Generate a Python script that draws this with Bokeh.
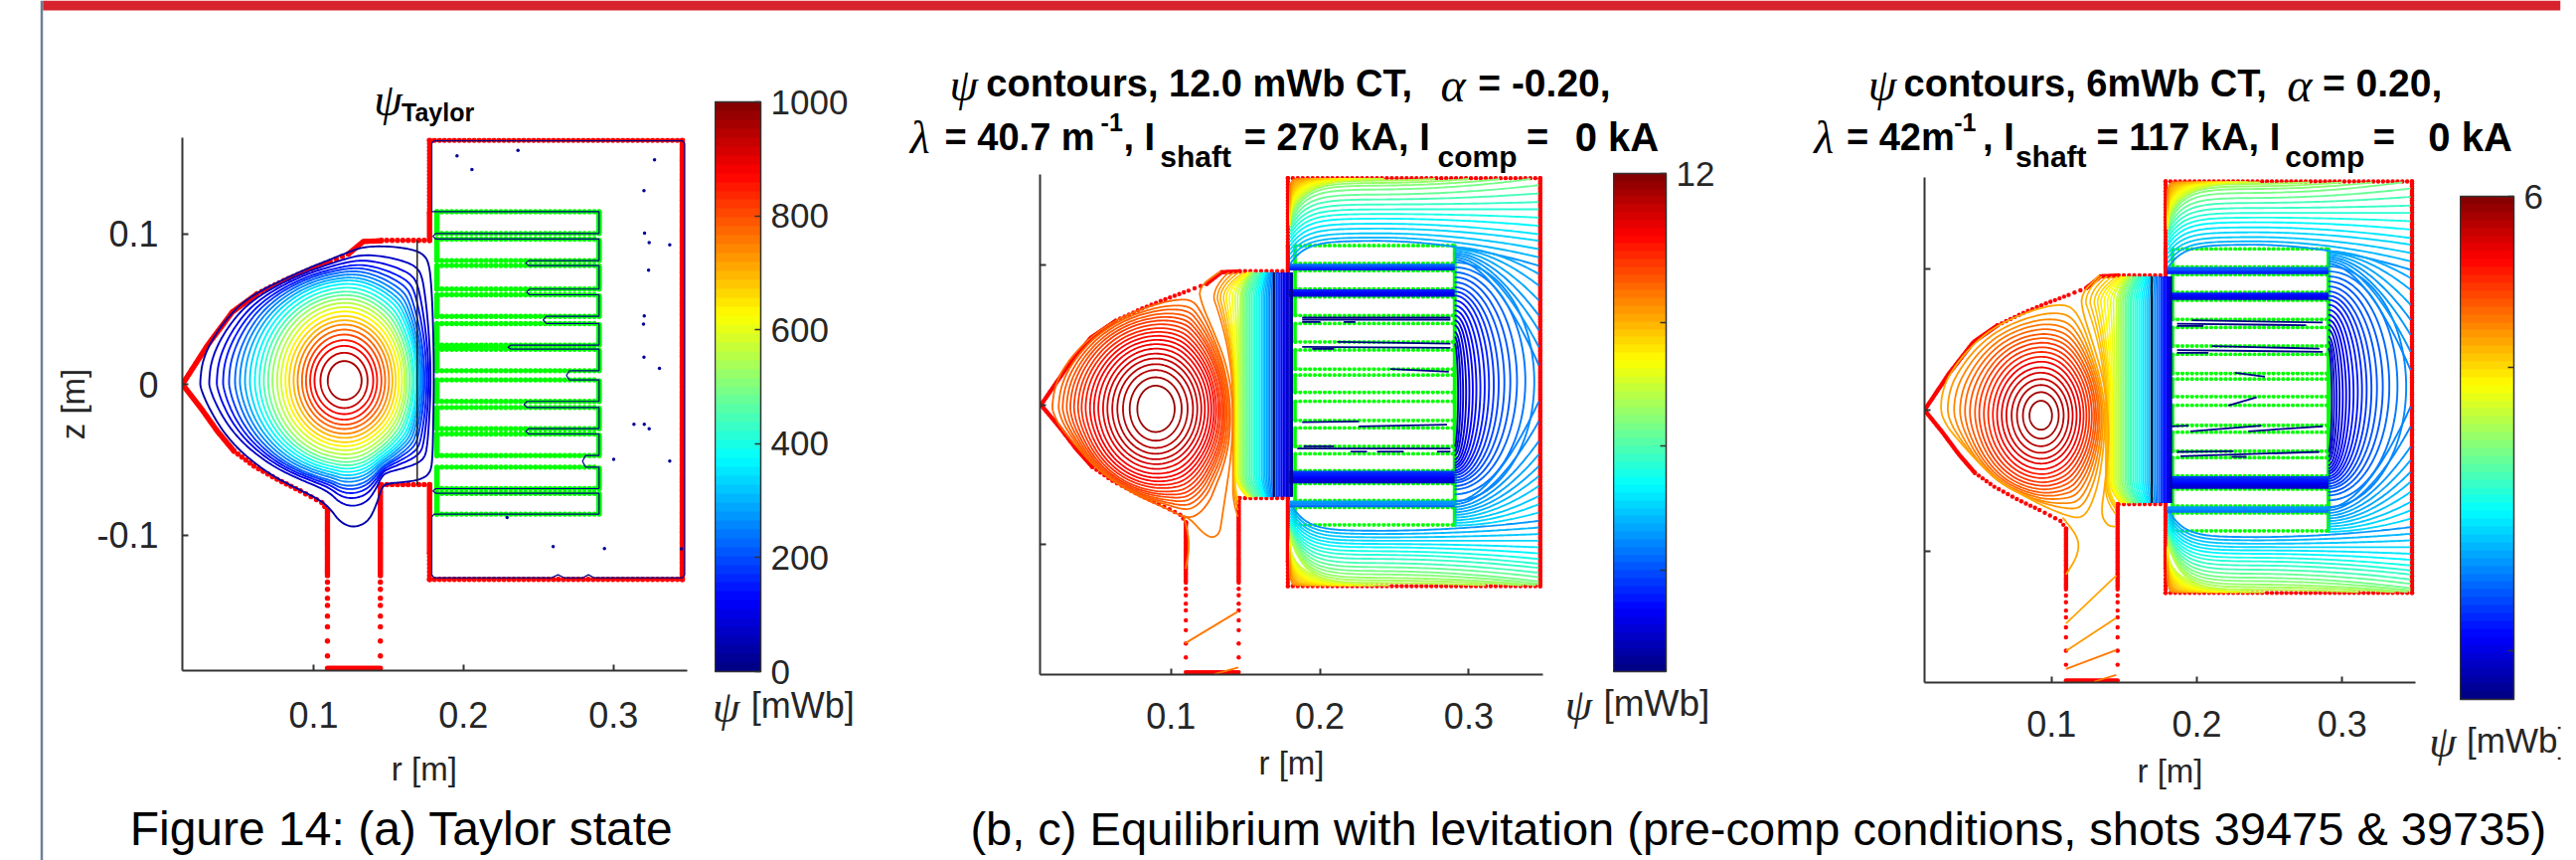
import numpy as np
from bokeh.embed import file_html
from bokeh.resources import INLINE
from bokeh.models import (ColorBar, ColumnDataSource, FixedTicker, Label, LinearColorMapper, Range1d, Row)
from bokeh.plotting import figure

# ---------- values (r, z in metres, psi in mWb) ----------
wall_upper_r = [.0127, .0296, .0462, .0629, .0807, .0962, .1118, .1240, .1340, .1462]
wall_upper_z = [0, .0260, .0480, .0601, .0689, .0755, .0816, .0865, .0948, .0953]
wall_lower_r = [.1102, .1062, .0918, .0762, .0607, .0473, .0362, .0251, .0127]
wall_lower_z = [-.084, -.0785, -.0708, -.0631, -.0543, -.0444, -.0312, -.0158, 0]
neck_left_r, neck_right_r = .1100, .1455
step_upper_z, step_lower_z = .0955, -.0666
tank_left_r, tank_right_r, tank_top_z, tank_bottom_z = .1785, .3480, .1620, -.1295
neck_sparse_z = [-.1314, -.1361, -.1420, -.1468, -.1539, -.1610, -.1705, -.1804]

# panel (a)
a_axis = (.1213, .0024)
a_left = [.1102, .1053, .1013, .0984, .0956, .0929, .0900, .0873, .0844, .0818, .0789, .0762, .0731, .0702, .0673, .0644, .0613, .0580, .0547, .0513, .0480, .0440, .0400, .0358, .0307, .0247]
a_right = [.1329, .1369, .1407, .1433, .1462, .1487, .1513, .1536, .1558, .1580, .1600, .1618, .1633, .1651, .1667, .1680, .1696, .1707, .1718, .1729, .1740, .1751, .1765, .1778, .1791, .1813]
a_top = [.0154, .0209, .0255, .0293, .0330, .0363, .0396, .0425, .0453, .0484, .0513, .0541, .0568, .0594, .0618, .0645, .0671, .0695, .0715, .0737, .0759, .0781, .0803, .0832, .0865, .0915]
a_bottom = [-.0103, -.0158, -.0198, -.0235, -.0268, -.0297, -.0328, -.0356, -.0385, -.0411, -.0438, -.0466, -.0492, -.0517, -.0539, -.0561, -.0583, -.0605, -.0627, -.0649, -.0675, -.0697, -.0724, -.0757, -.0807, -.0944]
a_levels = [960, 923, 886, 849, 812, 775, 738, 701, 664, 627, 590, 553, 516, 479, 442, 405, 368, 331, 294, 257, 220, 183, 146, 109, 72, 35]
a_outer_r = [.0247, .0262, .0318, .0407, .0518, .0651, .0807, .0962, .1118, .1229, .1340, .1496, .1651, .1740, .1784, .1802, .1813, .1818, .1813, .1807, .1789, .1729, .1629, .1496, .1462, .1429, .1373, .1273, .1184, .1118, .1051, .0918, .0762, .0629, .0496, .0385, .0296, .0251]
a_outer_z = [.0018, .0150, .0282, .0414, .0535, .0623, .0700, .0770, .0832, .0876, .0915, .0920, .0902, .0871, .0810, .0634, .0370, .0062, -.0290, -.0510, -.0587, -.0625, -.0642, -.0653, -.0686, -.0796, -.0906, -.0944, -.0906, -.0818, -.0763, -.0697, -.0620, -.0532, -.0422, -.0290, -.0136, -.0026]
a_coil_top = [.1146, .0964, .0788, .0594, .0403, .0233, .0029, -.0154, -.0330, -.0550, -.0724]
a_coil_bot = [.1001, .0821, .0632, .0451, .0260, .0090, -.0114, -.0295, -.0473, -.0693, -.0862]
a_notch_r = [.1807, .243, .2436, .2547, .2311, .2703, .2418, .243, .2811, .1807]
a_speck_r = [.1969, .2069, .2378, .3294, .3223, .3227, .3258, .3396, .3254, .3225, .3220, .3223, .3327, .3156, .3225, .3258, .3020, .3396, .2305, .2614, .2958, .3474]
a_speck_z = [.1516, .1426, .1553, .1490, .1285, .1003, .0940, .0926, .0757, .0453, .0400, .0180, .0106, -.0266, -.0266, -.0295, -.0499, -.0510, -.0884, -.1078, -.1091, -.1093]
a_x_ticks = [.1007, .2011, .3018]  # r scale of this panel as calibrated on its tick marks

# panel (b)
b_axis = (.0897, -.0028)
b_left = [.0774, .0723, .0678, .0640, .0606, .0573, .0544, .0512, .0483, .0456, .0427, .0400, .0376, .0349, .0324, .0300, .0273, .0246, .0204]
b_right = [.1025, .1072, .1112, .1148, .1177, .1204, .1228, .1251, .1271, .1289, .1304, .1320, .1333, .1347, .1358, .1367, .1378, .1389, .1398]
b_top = [.0137, .0197, .0249, .0291, .0332, .0367, .0403, .0436, .0467, .0497, .0526, .0554, .0583, .0611, .0637, .0663, .0691, .0717, .0751]
b_bottom = [-.0194, -.0256, -.0308, -.0350, -.0390, -.0426, -.0461, -.0497, -.0528, -.0556, -.0585, -.0611, -.0639, -.0663, -.0686, -.0710, -.0734, -.0757, -.0800]
b_levels = [11, 10.5, 10, 9.5, 9, 8.5, 8, 7.5, 7, 6.5, 6, 5.5, 5, 4.6, 4.2, 3.8, 3.4, 3, 2.6]
b_outer_r = [.0204, .0226, .0293, .0405, .0539, .0696, .0875, .1031, .1143, .1199, .1255, .1311, .1356, .1389, .1398, .1385, .1345, .1300, .1255, .1177, .1098, .0942, .0785, .0629, .0472, .0338, .0248, .0215]
b_outer_z = [-.0012, .0142, .0284, .0426, .0545, .0639, .0710, .0751, .0746, .0663, .0545, .0403, .0261, .0071, -.0095, -.0284, -.0450, -.0568, -.0686, -.0781, -.0800, -.0722, -.0651, -.0556, -.0426, -.0260, -.0142, -.0059]
b_coil_top = [.1137, .0959, .0770, .0580, .0391, .0213, .0024, -.0166, -.0350, -.0563, -.0734]
b_coil_bot = [.1011, .0829, .0639, .0450, .0256, .0090, -.0111, -.0296, -.0469, -.0682, -.0857]
b_neck_mid = [.1416, .1421, .1425, .1430, .1434, .1438, .1445, .1452, .1459, .1465, .1472, .1481, .1490, .1499, .1508, .1519, .1530, .1541, .1553, .1564, .1575, .1586, .1597, .1609, .1620, .1631, .1642, .1653, .1664, .1676, .1687, .1698, .1709, .1720, .1732, .1743, .1754, .1765, .1774, .1783, .1792, .1801, .1808, .1814]
b_neck_lev = [2.2, 1.2, .2, -.8, -1.9, -3, -3.7, -4.4, -5.1, -5.8, -6.5, -7.2, -8, -8.5, -9, -9.5, -10, -10.6, -11.2, -11.8, -12.4, -13, -13.7, -14.4, -15.1, -15.8, -16.5, -17.2, -17.9, -18.6, -19.3, -20, -20.7, -21.4, -22.1, -22.8, -23.5, -24, -24.5, -25, -25.5, -26, -26.5, -27]
b_neck_bow = [.0128, .0110, .0094, .0078, .0063, .0047, .0034, .0022, .0011]
b_neck_end_z = [-.0800, -.0752, -.0710, -.0680]
b_tail_r = [[.1334, .1183, .1210, .1288, .1367, .1412, .1416, .1400, .1367, .1340, .1327, .1277, .1210, .1143, .1087],
            [.1087, .1116, .1121, .1098], [.1094, .1452], [.1289, .1452]]
b_tail_z = [[.0955, .0840, .0710, .0521, .0308, .0071, -.0166, -.0402, -.0639, -.0829, -.0918, -.0954, -.0911, -.0829, -.0793],
            [-.0805, -.0923, -.1041, -.1172], [-.1704, -.1475], [-.1925, -.1877]]
b_tail_lev = [2.4, 2.4, 2.4, 2.4]
b_seg_r0 = [.1881, .1881, .1881, .2161, .2116, .1881, .1948, .2474, .1881, .2261, .1892, .1848, .2206, .2384, .2787]
b_seg_r1 = [.2877, .2877, .2004, .2239, .2877, .2877, .2094, .2866, .2261, .2854, .2094, .2877, .2317, .2563, .2877]
b_seg_z0 = [.0623, .0609, .0592, .0592, .0450, .0414, .0400, .0256, -.0123, -.0154, -.0296, -.0312, -.0334, -.0334, -.0334]
b_seg_z1 = [.0623, .0609, .0592, .0592, .0438, .0407, .0400, .0237, -.0118, -.0142, -.0296, -.0312, -.0334, -.0334, -.0334]

# panel (c)
c_axis = (.0929, -.0038)
c_left = [.0849, .0804, .0763, .0726, .0690, .0658, .0626, .0597, .0565, .0535, .0503, .0474, .0439, .0405, .0371, .0330, .0287, .0241]
c_right = [.1004, .1050, .1084, .1118, .1146, .1173, .1198, .1221, .1241, .1260, .1278, .1294, .1307, .1321, .1332, .1344, .1355, .1367]
c_top = [.0066, .0127, .0178, .0220, .0265, .0303, .0343, .0378, .0413, .0446, .0479, .0512, .0542, .0577, .0612, .0648, .0690, .0742]
c_bottom = [-.0139, -.0202, -.0256, -.0303, -.0345, -.0380, -.0420, -.0456, -.0486, -.0517, -.0545, -.0573, -.0601, -.0627, -.0655, -.0686, -.0714, -.0756]
c_levels = [5.6, 5.3, 5, 4.7, 4.4, 4.1, 3.8, 3.5, 3.2, 2.9, 2.7, 2.4, 2.2, 2.0, 1.7, 1.5, 1.2, .9]
c_outer_r = [.0241, .0268, .0348, .0462, .0599, .0758, .0918, .1055, .1146, .1214, .1271, .1328, .1362, .1367, .1351, .1317, .1260, .1203, .1123, .0963, .0804, .0644, .0485, .0348, .0280]
c_outer_z = [.0002, .0178, .0319, .0460, .0577, .0659, .0718, .0742, .0718, .0601, .0436, .0249, .0061, -.0103, -.0315, -.0526, -.0690, -.0756, -.0749, -.0690, -.0608, -.0514, -.0362, -.0197, -.0103]
c_coil_top = [.1141, .0960, .0777, .0584, .0394, .0220, .0033, -.0158, -.0338, -.0561, -.0730]
c_coil_bot = [.1016, .0835, .0643, .0455, .0260, .0096, -.0108, -.0291, -.0467, -.0679, -.0855]
c_neck_mid = [.1373, .1380, .1387, .1394, .1401, .1410, .1419, .1428, .1437, .1449, .1460, .1471, .1483, .1494, .1506, .1517, .1528, .1540, .1551, .1565, .1579, .1592, .1606, .1620, .1633, .1647, .1661, .1674, .1688, .1702, .1715, .1729, .1743, .1756, .1765, .1775, .1784, .1793, .1802, .1811, .1818, .1825]
c_neck_lev = [.7, .5, .3, .1, -.1, -.4, -.7, -1, -1.3, -1.6, -1.9, -2.2, -2.5, -2.75, -3, -3.2, -3.5, -3.7, -4, -4.25, -4.5, -4.75, -5, -5.25, -5.5, -5.75, -6, -6.3, -6.6, -6.9, -7.2, -7.6, -8, -8.4, -8.7, -9, -9.3, -9.6, -9.9, -10.2, -10.5, -10.9]
c_neck_bow = [.0137, .0114, .0093, .0077, .0062, .0048, .0034, .0021, .0011, .0002]
c_neck_end_z = [-.0737, -.0700, -.0680, -.0665]
c_tail_r = [[.1330, .1203, .1214, .1282, .1351, .1385, .1396, .1369, .1339, .1385, .1442],
            [.1077, .1168, .1191, .1168, .1100], [.1100, .1446], [.1100, .1446], [.1100, .1446], [.1294, .1446]]
c_tail_z = [[.0955, .0824, .0695, .0483, .0249, .0014, -.0221, -.0526, -.0737, -.0819, -.0826],
            [-.0761, -.0878, -.0960, -.1054, -.1165], [-.1512, -.1172], [-.1707, -.1472], [-.1834, -.1700], [-.1923, -.1876]]
c_tail_lev = [1.0, 1.0, 1.0, 1.2, 1.8, 1.8]
c_seg_r0 = [.1966, .1864, .1864, .2103, .1864, .1864, .2262, .2217, .1955, .2354, .1818, .1864, .1887, .2240]
c_seg_r1 = [.2866, .2752, .2046, .2843, .2866, .2080, .2468, .2411, .2445, .2866, .1943, .2251, .2843, .2342]
c_seg_z0 = [.0636, .0612, .0596, .0453, .0425, .0406, .0265, .0033, -.0150, -.0150, -.0115, -.0296, -.0327, -.0331]
c_seg_z1 = [.0620, .0601, .0596, .0436, .0413, .0406, .0237, .0091, -.0110, -.0115, -.0110, -.0291, -.0296, -.0331]

# top-of-neck spread shared by the two levitation panels
neck_top_shift = [-.0027, .0002, .0031, .0060, .0078, .0085, .0089, .0089, .0085, .0081, .0076, .0072, .0067, .0067, .0067, .0067, .0067, .0063, .0058, .0054, .0049, .0045, .0040, .0036, .0031, .0027, .0022, .0018, .0013, .0009, .0004]

# tank contours of panel (b), colours also read for (c)
top_mid_z = [.1172, .1196, .1226, .1260, .1295, .1331, .1364, .1397, .1432, .1468, .1503, .1539, .1567, .1586, .1603, .1615]
top_wall_z = [.0994, .1054, .1113, .1172, .1219, .1279, .1338, .1397, .1449, .1511, .1570, .1622, .1645, .1669, .1681, .1693]
top_left_z = [.1006, .1042, .1077, .1108, .1136, .1165, .1191, .1217, .1241, .1264, .1286, .1307, .1326, .1342, .1359, .1373]
top_lev = [-17, -16.2, -15.5, -14.8, -14, -13.2, -12.4, -11.6, -10.8, -10, -9.2, -8.5, -7.8, -7, -6.3, -5.6]
bot_mid_z = [-.0900, -.0923, -.0947, -.0971, -.0994, -.1018, -.1046, -.1072, -.1101, -.1131, -.1160, -.1188, -.1212, -.1236, -.1255, -.1273]
bot_wall_z = [-.0829, -.0876, -.0923, -.0971, -.1018, -.1061, -.1101, -.1136, -.1165, -.1200, -.1231, -.1262, -.1278, -.1290, -.1297, -.1307]
bot_left_z = [-.0698, -.0722, -.0746, -.0769, -.0793, -.0817, -.0833, -.0850, -.0864, -.0876, -.0888, -.0900, -.0911, -.0923, -.0935, -.0947]
corner_top_z = [.1279, .1297, .1314, .1331, .1350, .1368, .1387, .1411, .1435, .1463, .1496, .1534]
corner_top_r = [.2429, .2351, .2284, .2217, .2161, .2109, .2060, .2015, .1971, .1926, .1888, .1852]
corner_bot_z = [-.0959, -.0971, -.0982, -.0994, -.1006, -.1018, -.1035, -.1053, -.1077, -.1101, -.1136, -.1172]
corner_bot_r = [.2463, .2362, .2284, .2217, .2150, .2094, .2038, .1982, .1937, .1904, .1870, .1843]
corner_lev = [-5, -4.4, -3.8, -3.2, -2.6, -2, -1.4, -.8, -.2, .4, 1, 1.6]
arc_mid_r = [.2928, .2944, .2962, .2982, .3004, .3027, .3051, .3078, .3107, .3136, .3168, .3201, .3239, .3279, .3324, .3380, .3440]
arc_top_z = [.0438, .0485, .0521, .0568, .0604, .0639, .0675, .0710, .0746, .0781, .0810, .0841, .0876, .0912, .0947, .0983, .1018]
arc_bot_z = [-.0296, -.0331, -.0360, -.0391, -.0414, -.0433, -.0450, -.0469, -.0485, -.0502, -.0521, -.0540, -.0556, -.0580, -.0604, -.0639, -.0686]
arc_lev = [-26, -25.5, -25, -24.5, -24, -23.5, -23, -22.5, -22, -21.5, -21, -20.5, -20, -19.5, -19, -18.5, -18]
cut_up_start = [.1037, .1054, .1070, .1084, .1099, .1113, .1125]
cut_up_end = [.0284, .0414, .0533, .0639, .0746, .0852, .0935]
cut_up_lev = [-17.8, -17.5, -17.2, -17, -16.8, -16.6, -16.4]
cut_lo_start = [-.0693, -.0710, -.0729, -.0748, -.0767, -.0786, -.0805, -.0824, -.0843, -.0862]
cut_lo_end = [.0024, -.0118, -.0260, -.0355, -.0438, -.0509, -.0580, -.0651, -.0710, -.0769]
cut_lo_lev = [-18, -17.6, -17.2, -16.8, -16.4, -16, -15.6, -15.2, -14.8, -14.4]
gap_bundles = {0: [-22, -21.5, -21, -20, -19], 1: [-24.5, -24, -23.5, -23, -22.5],
               8: [-25.5, -25, -24.5, -24, -23.5, -23, -22.5, -22, -21.5, -21], 9: [-19, -18.5, -18, -17.5, -17]}

a_ticks_cb, b_ticks_cb, c_ticks_cb = [0, 200, 400, 600, 800, 1000], [12, 0, -10, -20], [6, 0, -10]
a_low, a_high, b_low, b_high, c_low, c_high = 0, 1000, -28.2, 12, -11.7, 6


# ---------- helpers ----------
def jet(n=64):
    x = (np.arange(n) + .5) / n
    ch = lambda c: np.clip(1.5 - np.abs(4 * x - c), 0, 1)
    return ["#%02x%02x%02x" % (int(255 * r), int(255 * g), int(255 * b)) for r, g, b in zip(ch(3), ch(2), ch(1))]


JET = jet()
INK = "#333333"
SANS = "Liberation Sans"
SERIF = "Liberation Serif"
TOP_BAND = 30


def chaikin(r, z, n=3, closed=False):
    p = np.column_stack([r, z]).astype(float)
    for _ in range(n):
        q = np.roll(p, -1, 0) if closed else p[1:]
        b = p if closed else p[:-1]
        m = np.empty((2 * len(b), 2))
        m[0::2] = .75 * b + .25 * q
        m[1::2] = .25 * b + .75 * q
        p = m if closed else np.vstack([p[:1], m, p[-1:]])
    return p[:, 0], p[:, 1]


def nested(outer_r, outer_z, axis, left, right, top, bottom, power=4):
    r0, z0 = axis
    ro, zo = chaikin(outer_r, outer_z, 3, True)
    ol, orr, ot, ob = r0 - ro.min(), ro.max() - r0, zo.max() - z0, z0 - zo.min()
    u = np.where(ro < r0, (ro - r0) / ol, (ro - r0) / orr)
    v = np.where(zo > z0, (zo - z0) / ot, (zo - z0) / ob)
    rho = np.hypot(u, v)
    xs, ys = [], []
    for L, R, T, B in zip(left, right, top, bottom):
        w = ((r0 - L) / ol) ** power
        uu = (1 - w) * u / rho + w * u
        vv = (1 - w) * v / rho + w * v
        x = (r0 + uu * np.where(uu < 0, r0 - L, R - r0)).tolist()
        y = (z0 + vv * np.where(vv > 0, T - z0, z0 - B)).tolist()
        xs.append(x + x[:1])
        ys.append(y + y[:1])
    return xs, ys


def along(r, z, step):
    out_r, out_z = [], []
    for i in range(len(r) - 1):
        n = max(int(np.hypot(r[i + 1] - r[i], z[i + 1] - z[i]) / step), 1)
        t = np.arange(n) / n
        out_r += list(r[i] + t * (r[i + 1] - r[i]))
        out_z += list(z[i] + t * (z[i + 1] - z[i]))
    out_r.append(r[-1]); out_z.append(z[-1])
    return out_r, out_z


def wall_dots(z_floor, thick=.0012, thin=.0033):
    parts = [
        along(wall_lower_r[:6], wall_lower_z[:6], thin), along(wall_lower_r[5:], wall_lower_z[5:], thick),
        along(wall_upper_r[:4], wall_upper_z[:4], thick), along(wall_upper_r[3:8], wall_upper_z[3:8], thin),
        along(wall_upper_r[7:], wall_upper_z[7:], thick),
        along([wall_upper_r[-1], tank_left_r], [step_upper_z, step_upper_z], thin),
        along([tank_left_r, tank_left_r], [step_upper_z, .114], thick),
        along([tank_left_r, tank_left_r], [.114, tank_top_z], .0022),
        along([tank_left_r, tank_right_r], [tank_top_z, tank_top_z], thin),
        along([tank_right_r, tank_right_r], [tank_top_z, tank_bottom_z], thick),
        along([tank_right_r, tank_left_r], [tank_bottom_z, tank_bottom_z], thin),
        along([tank_left_r, tank_left_r], [tank_bottom_z, -.112], .0022),
        along([tank_left_r, tank_left_r], [-.112, step_lower_z], thick),
        along([tank_left_r, wall_upper_r[-1]], [step_lower_z, step_lower_z], thin),
        along([neck_right_r, neck_right_r], [step_lower_z, -.127], thick),
        along([neck_left_r, neck_left_r], [wall_lower_z[0], -.127], thick),
        along([neck_left_r, neck_right_r], [z_floor, z_floor], thick),
    ]
    rr, zz = [], []
    for a, b in parts:
        rr += a; zz += b
    for z in neck_sparse_z:
        rr += [neck_left_r, neck_right_r]; zz += [z, z]
    return rr, zz


def coil_dots(tops, bots, r0, r1, step, col_step, solid_right):
    rr, zz = [], []
    for t, b in zip(tops, bots):
        for z in (t, b):
            x = list(np.arange(r0, r1, step))
            rr += x; zz += [z] * len(x)
        y = list(np.arange(b, t, col_step))
        rr += [r0] * len(y); zz += y
        if not solid_right:
            rr += [r1] * len(y); zz += y
    if solid_right:
        y = list(np.arange(bots[-1], tops[0], col_step))
        rr += [r1] * len(y); zz += y
    return rr, zz


def panel(left, top, w, h, xr, yr, xticks, yticks, ylabels, tick_gap, label_gap, xlabel=True, axis_label_y=None):
    bl, br, bb = 150, 12, 120
    p = figure(frame_width=w, frame_height=h, min_border_left=bl, min_border_right=br, min_border_top=TOP_BAND,
               min_border_bottom=bb, x_range=Range1d(*xr), y_range=Range1d(*yr), output_backend="svg", title=None,
               toolbar_location=None, background_fill_color=None, border_fill_color=None,
               styles={"position": "absolute", "left": f"{left - bl}px", "top": f"{top - TOP_BAND}px"})
    p.outline_line_color = None
    p.grid.visible = False
    for ax in (p.xaxis[0], p.yaxis[0]):
        ax.axis_line_color = INK
        ax.axis_line_width = 2
        ax.major_tick_line_color = INK
        ax.major_tick_line_width = 2
        ax.major_tick_in = 6
        ax.major_tick_out = 0
        ax.minor_tick_in = 0
        ax.minor_tick_out = 0
        ax.major_label_text_font = SANS
        ax.major_label_text_font_size = "36px"
        ax.major_label_text_color = "#262626"
        ax.axis_label_text_font = SANS
        ax.axis_label_text_font_size = "33px"
        ax.axis_label_text_font_style = "normal"
        ax.axis_label_text_color = "#262626"
    p.xaxis[0].ticker = FixedTicker(ticks=xticks)
    p.xaxis[0].major_label_overrides = dict(zip(xticks, ["0.1", "0.2", "0.3"]))
    if xlabel:
        p.xaxis[0].axis_label = "r [m]"
    p.xaxis[0].major_label_standoff = tick_gap
    p.xaxis[0].axis_label_standoff = label_gap
    p.yaxis[0].ticker = FixedTicker(ticks=yticks)
    p.yaxis[0].major_label_overrides = dict(zip(yticks, ylabels))
    p.yaxis[0].major_label_standoff = 24
    if axis_label_y:
        p.yaxis[0].axis_label = axis_label_y
        p.yaxis[0].axis_label_standoff = 2
    return p


def lines(p, xs, ys, lev, mapper, width):
    src = ColumnDataSource(dict(xs=xs, ys=ys, lev=list(lev)))
    p.multi_line("xs", "ys", source=src, line_width=width, line_color={"field": "lev", "transform": mapper})


def colorbar(left, top, w, h, mapper, ticks, room=95):
    f = figure(frame_width=w + room, frame_height=h, min_border_left=0, min_border_right=0, min_border_top=TOP_BAND,
               min_border_bottom=30, x_range=Range1d(0, 1), y_range=Range1d(0, 1), output_backend="svg", title=None,
               toolbar_location=None, background_fill_color=None, border_fill_color=None, x_axis_type=None,
               y_axis_type=None, styles={"position": "absolute", "left": f"{left}px", "top": f"{top - TOP_BAND}px"})
    f.outline_line_color = None
    f.grid.visible = False
    cb = ColorBar(color_mapper=mapper, ticker=FixedTicker(ticks=ticks), width=w, height=h, location="top_left",
                  padding=0, margin=0, major_label_overrides={t: str(t) for t in ticks},
                  major_label_text_font=SANS, major_label_text_font_size="35px",
                  major_label_text_color="#262626", major_tick_line_color=INK, major_tick_line_width=1.5,
                  major_tick_in=6, major_tick_out=0, minor_tick_line_color=None, bar_line_color=INK,
                  bar_line_width=1.5, label_standoff=10, background_fill_color=None, border_line_color=None)
    f.add_layout(cb, "center")
    return f


def neck_lines(mid, bow, end_z, wall_r):
    xs, ys = [], []
    top, low = step_upper_z - .0008, step_lower_z + .0008
    for i, m in enumerate(mid):
        b = bow[i] if i < len(bow) else 0
        f = neck_top_shift[i] if i < len(neck_top_shift) else 0
        zu = np.linspace(top, 0, 40)
        tu = zu / top
        ru = m - b * np.minimum(tu / .8, 1) ** 2 + (f + b) * (np.clip(tu - .8, 0, None) / .2) ** 2
        if i < len(end_z):
            ze, re = end_z[i], wall_r
        else:
            ze, re = low, m + f
        zl = np.linspace(0, ze, 40)[1:]
        tl = zl / ze
        rl = m + (re - m) * (np.clip(tl - .75, 0, None) / .25) ** 2
        xs.append(list(ru) + list(rl))
        ys.append(list(zu) + list(zl))
    return xs, ys


def tank_lines(rescale, tops, bots, mapper, p, width):
    rl, rw = tank_left_r + .0015, tank_right_r - .001
    rm, w = .2362, .010
    grid = np.linspace(rl, rw, 90)
    xs, ys, lev = [], [], []
    for fam, sign in (((top_mid_z, top_wall_z, top_left_z, top_lev), 1), ((bot_mid_z, bot_wall_z, bot_left_z, top_lev), -1)):
        for zm, zw, zl, l in zip(*fam):
            z = zm + (zl - zm) * np.exp(-(grid - rl) / w) + (grid > rm) * (zw - zm) * (np.clip(grid - rm, 0, None) / (rw - rm)) ** 2
            lim = tank_top_z - .0006 if sign > 0 else tank_bottom_z + .0006
            ok = z <= lim if sign > 0 else z >= lim
            xs.append(list(grid[ok])); ys.append(list(z[ok])); lev.append(rescale(l))
    th = np.linspace(0, np.pi / 2, 40)
    for zs, re, l in zip(corner_top_z, corner_top_r, corner_lev):
        xs.append(list(rl + (re - rl) * (1 - np.cos(th) ** .75)))
        ys.append(list(zs + (tank_top_z - .0006 - zs) * np.sin(th) ** .75)); lev.append(rescale(l))
    for zs, re, l in zip(corner_bot_z, corner_bot_r, corner_lev):
        xs.append(list(rl + (re - rl) * (1 - np.cos(th) ** .75)))
        ys.append(list(zs + (tank_bottom_z + .0006 - zs) * np.sin(th) ** .75)); lev.append(rescale(l))
    th = np.linspace(-np.pi / 2, np.pi / 2, 60)
    r_edge = .2905
    for rc, zt, zb, l in zip(arc_mid_r, arc_top_z, arc_bot_z, arc_lev):
        xs.append(list(r_edge + (rc - r_edge) * np.cos(th)))
        ys.append(list((zt + zb) / 2 + (zt - zb) / 2 * np.sin(th))); lev.append(rescale(l))
    t = np.linspace(0, 1, 40)
    for zs, ze, l in list(zip(cut_up_start, cut_up_end, cut_up_lev)) + list(zip(cut_lo_start, cut_lo_end, cut_lo_lev)):
        xs.append(list(r_edge + (rw - r_edge) * t))
        ys.append(list(zs + (ze - zs) * t ** 1.8)); lev.append(rescale(l))
    for gap, levels in gap_bundles.items():
        z1, z0 = bots[gap], tops[gap + 1]
        for j, l in enumerate(levels):
            z = z0 + (z1 - z0) * (j + 1) / (len(levels) + 1)
            xs.append([.1795, r_edge]); ys.append([z, z]); lev.append(rescale(l))
    lines(p, xs, ys, lev, mapper, width)


def levitation(p, mapper, low, high, tops, bots, axis, outer, left, right, top, bottom, levels,
               neck_mid, neck_lev, neck_bow, neck_end, wall_r, tail_r, tail_z, tail_lev,
               seg, floor, separator_r):
    rescale = lambda l: low + (l - b_low) / (b_high - b_low) * (high - low)
    rr, zz = coil_dots(tops, bots, .1835, .2905, .0033, .0012, True)
    p.scatter(rr, zz, size=4.2, color="#00ff00", line_color=None)
    p.quad(left=.1845, right=.2890, top=[t - .0012 for t in tops], bottom=[b + .0012 for b in bots], fill_color="white", line_color=None)
    rr, zz = wall_dots(floor)
    p.scatter(rr, zz, size=4.4, color="#ff0000", line_color=None)
    tank_lines(rescale, tops, bots, mapper, p, 1.9)
    xs, ys = neck_lines(neck_mid, neck_bow, neck_end, wall_r)
    lines(p, xs, ys, neck_lev, mapper, 1.6)
    xs, ys = nested(outer[0], outer[1], axis, left, right, top, bottom)
    lines(p, xs, ys, levels, mapper, 1.8)
    tx, ty = [], []
    for a, b in zip(tail_r, tail_z):
        r_, z_ = chaikin(a, b, 2) if len(a) > 2 else (np.array(a), np.array(b))
        tx.append(list(r_)); ty.append(list(z_))
    lines(p, tx, ty, tail_lev, mapper, 1.8)
    lines(p, [[a, b] for a, b in zip(seg[0], seg[1])], [[a, b] for a, b in zip(seg[2], seg[3])],
          [low + .01 * (high - low)] * len(seg[0]), mapper, 1.8)
    p.line([separator_r, separator_r], [step_upper_z - .0008, step_lower_z + .0008], line_color="black", line_width=1.8)


# ---------- page ----------
bg = figure(frame_width=2592, frame_height=865, x_range=Range1d(0, 2592), y_range=Range1d(865, 0), min_border_left=0,
            min_border_right=0, min_border_bottom=0, min_border_top=TOP_BAND, title=None,
            output_backend="svg", toolbar_location=None, x_axis_type=None, y_axis_type=None,
            background_fill_color="white", border_fill_color=None,
            styles={"position": "absolute", "left": "0px", "top": f"{-TOP_BAND}px"})
bg.outline_line_color = None
bg.grid.visible = False
bg.quad(left=43, right=2592, top=0, bottom=10, fill_color="#d8232f", line_color=None)
bg.quad(left=40.5, right=43, top=0, bottom=865, fill_color="#6e7f96", line_color=None)


def T(text, x, y, size, bold=False, font=SANS, italic=False, color="black", align="left"):
    style = ("bold " if bold else "") + ("italic" if italic else "")
    bg.add_layout(Label(x=x, y=y, text=text, text_font=font, text_font_size=f"{size}px",
                        text_font_style=style.strip() or "normal", text_color=color, text_align=align,
                        text_baseline="middle"))


T("Figure 14: (a) Taylor state", 131, 833, 48)
T("(b, c) Equilibrium with levitation (pre-comp conditions, shots 39475 & 39735)", 982, 833, 47)

T("\u03c8", 378, 100, 46, font=SERIF, italic=True)
T("Taylor", 406, 112, 25, bold=True)
T("r [m]", 429, 773, 33, color="#262626", align="center")
T("\u03c8", 721, 711, 44, font=SERIF, italic=True, color="#262626")
T("[mWb]", 760, 709, 36, color="#262626")
T("\u03c8", 1584, 709, 44, font=SERIF, italic=True, color="#262626")
T("[mWb]", 1623, 707, 37, color="#262626")
T("\u03c8", 2459, 746, 44, font=SERIF, italic=True, color="#262626")
T("[mWb]", 2497, 744, 35, color="#262626")

T("\u03c8", 961, 85, 46, font=SERIF, italic=True)
T("contours, 12.0 mWb CT,", 998, 83, 38, bold=True)
T("\u03b1", 1458, 85, 48, font=SERIF, italic=True)
T("= -0.20,", 1496, 83, 39, bold=True)
T("\u03bb", 921, 138, 46, font=SERIF, italic=True)
T("= 40.7 m", 956, 137, 38, bold=True)
T("-1", 1114, 122, 25, bold=True)
T(", I", 1137, 137, 38, bold=True)
T("shaft", 1174, 157, 30, bold=True)
T("= 270 kA, I", 1259, 137, 38, bold=True)
T("comp", 1455, 157, 30, bold=True)
T("=", 1545, 137, 38, bold=True)
T("0 kA", 1594, 137, 40, bold=True)

T("\u03c8", 1891, 85, 46, font=SERIF, italic=True)
T("contours, 6mWb CT,", 1927, 83, 38, bold=True)
T("\u03b1", 2315, 85, 48, font=SERIF, italic=True)
T("= 0.20,", 2351, 83, 39, bold=True)
T("\u03bb", 1836, 138, 46, font=SERIF, italic=True)
T("= 42m", 1869, 137, 38, bold=True)
T("-1", 1978, 122, 25, bold=True)
T(", I", 2007, 137, 38, bold=True)
T("shaft", 2040, 157, 30, bold=True)
T("= 117 kA, I", 2122, 137, 38, bold=True)
T("comp", 2313, 157, 30, bold=True)
T("=", 2402, 137, 38, bold=True)
T("0 kA", 2458, 137, 40, bold=True)

# panel (a)
map_a = LinearColorMapper(palette=JET, low=a_low, high=a_high)
pa = panel(183, 138, 508, 536, (.01267, .35133), (-.1901, .1637), a_x_ticks, [-.1, 0, .1], ["-0.1", "0", "0.1"], 31, 0,
           xlabel=False, axis_label_y="z [m]")
rr, zz = coil_dots(a_coil_top, a_coil_bot, .1834, .2922, .0033, .0009, False)
pa.scatter(rr, zz, size=5.4, color="#00ff00", line_color=None)
rr, zz = along([.1850, .2300], [.0247, .0247], .0033)
pa.scatter(rr, zz, size=5.4, color="#00ff00", line_color=None)
rr, zz = wall_dots(-.1885)
pa.scatter(rr, zz, size=5.4, color="#ff0000", line_color=None)
xs, ys = nested(a_outer_r, a_outer_z, a_axis, a_left, a_right, a_top, a_bottom)
lines(pa, xs, ys, a_levels, map_a, 1.9)
sr, sz = [.1800, .2922], [a_coil_top[0], a_coil_top[0]]
for i in range(10):
    zb, zt, n = a_coil_bot[i], a_coil_top[i + 1], a_notch_r[i]
    sr += [.2922, n + .002, n, n + .002, .2922]
    sz += [zb, zb, (zb + zt) / 2, zt, zt]
sr += [.2922, .1815, .1800, .1800, .1815, .2600, .2647, .2690, .2810, .2851, .2890, .3480, .3496, .3496, .3480, .1815, .1800, .1800]
sz += [a_coil_bot[-1], a_coil_bot[-1], -.0880, -.1265, -.1285, -.1285, -.1265, -.1285, -.1285, -.1265, -.1285, -.1285, -.1265, .1600, .1617, .1617, .1600, a_coil_top[0]]
lines(pa, [sr], [sz], [8], map_a, 1.2)
pa.scatter(a_speck_r, a_speck_z, size=3.5, color=JET[1], line_color=None)
pa.line([.1702, .1702], [step_upper_z, step_lower_z], line_color="#222222", line_width=1.5)
cb_a = colorbar(719, 102, 46, 573, map_a, a_ticks_cb)

# panel (b)
map_b = LinearColorMapper(palette=JET, low=b_low, high=b_high)
pb = panel(1046, 175, 506, 503, (.01208, .3498), (-.1927, .1646), [.1, .2, .3], [-.1, 0, .1], ["", "", ""], 28, 13)
levitation(pb, map_b, b_low, b_high, b_coil_top, b_coil_bot, b_axis, (b_outer_r, b_outer_z), b_left, b_right, b_top, b_bottom,
           b_levels, b_neck_mid, b_neck_lev, b_neck_bow, b_neck_end_z, .1450, b_tail_r, b_tail_z, b_tail_lev,
           (b_seg_r0, b_seg_r1, b_seg_z0, b_seg_z1), -.1910, .1691)
cb_b = colorbar(1623, 174, 53, 501, map_b, b_ticks_cb)

# panel (c)
map_c = LinearColorMapper(palette=JET, low=c_low, high=c_high)
pc = panel(1936, 178, 494, 508, (.01272, .3504), (-.1930, .1648), [.1, .2, .3], [-.1, 0, .1], ["", "", ""], 28, 13)
levitation(pc, map_c, c_low, c_high, c_coil_top, c_coil_bot, c_axis, (c_outer_r, c_outer_z), c_left, c_right, c_top, c_bottom,
           c_levels, c_neck_mid, c_neck_lev, c_neck_bow, c_neck_end_z, .1442, c_tail_r, c_tail_z, c_tail_lev,
           (c_seg_r0, c_seg_r1, c_seg_z0, c_seg_z1), -.1915, .1690)
cb_c = colorbar(2475, 197, 54, 506, map_c, c_ticks_cb, room=63)

root = Row(children=[bg, pa, cb_a, pb, cb_b, pc, cb_c], width=2576, height=896, margin=(0, 0, -47, 0))
open("out.html", "w").write(file_html(root, INLINE))
